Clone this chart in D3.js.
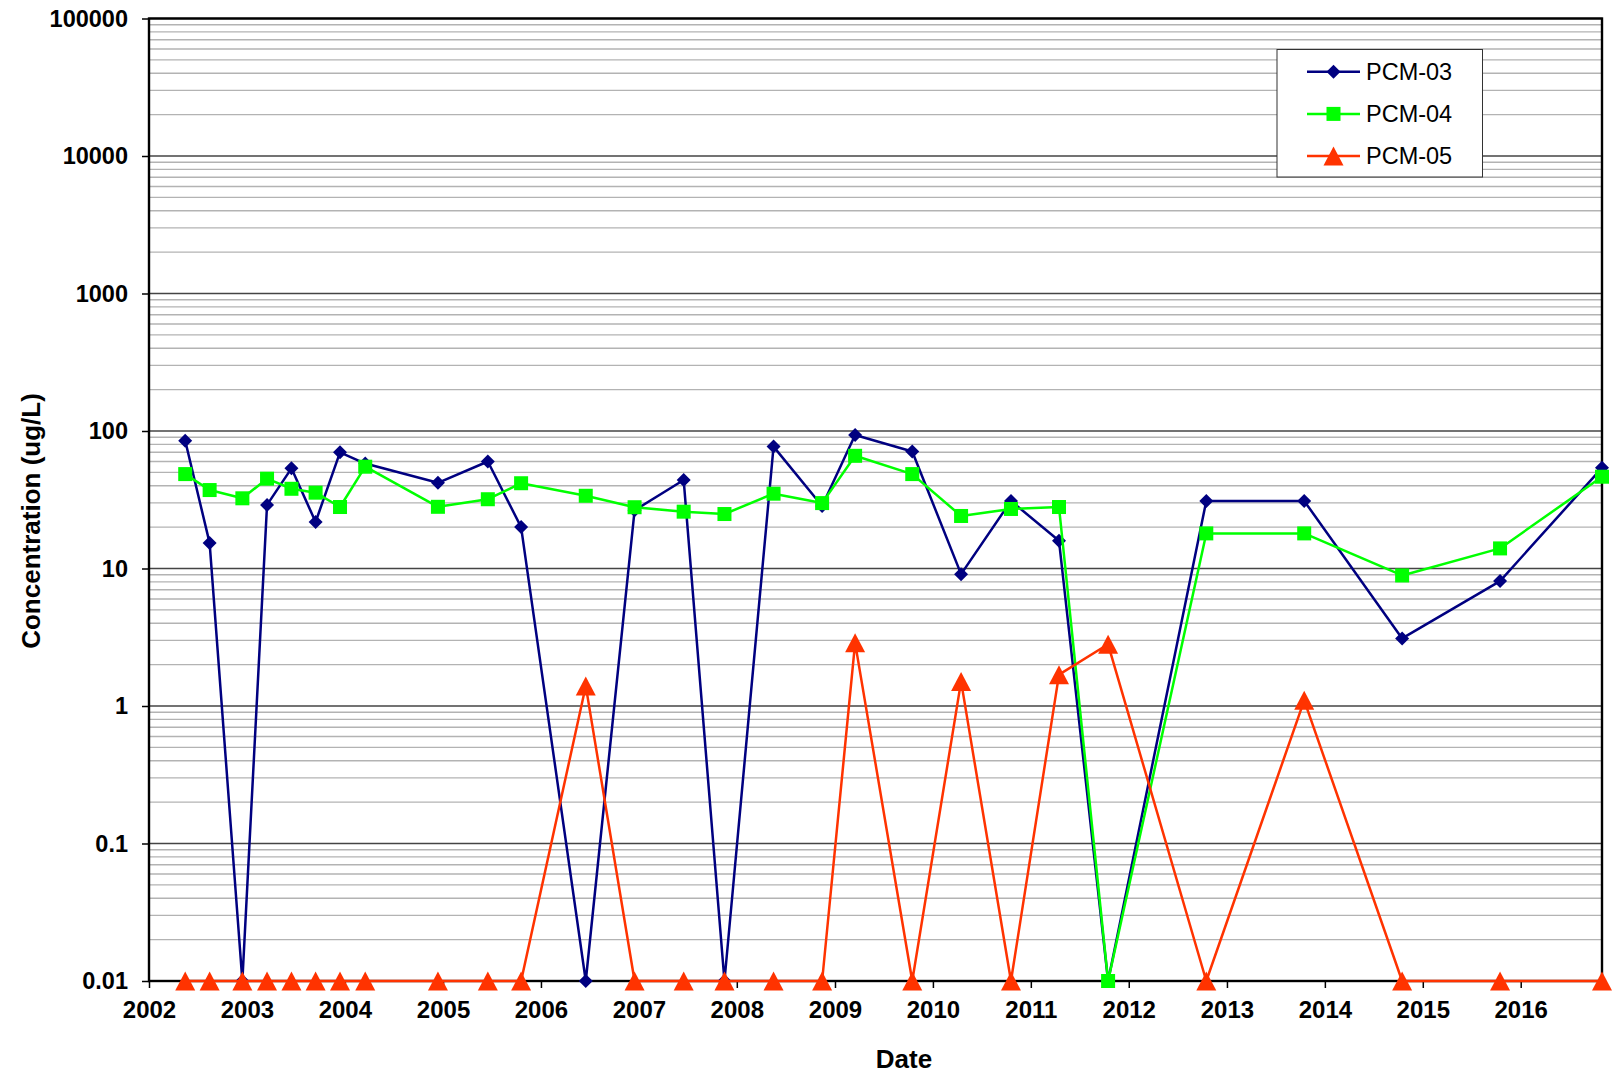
<!doctype html>
<html>
<head>
<meta charset="utf-8">
<script src="https://d3js.org/d3.v7.min.js"></script>
<style>
  body { margin: 0; background: #fff; }
  text { font-family: "Liberation Sans", Arial, sans-serif; }
</style>
</head>
<body>
<script>
// sample dates and concentrations (ug/L); non-detects plotted at 0.01
var dates = ["2002-05-16","2002-08-15","2002-12-15","2003-03-17","2003-06-16","2003-09-14","2003-12-14",
  "2004-03-17","2004-12-13","2005-06-17","2005-10-19","2006-06-17","2006-12-16","2007-06-17",
  "2007-11-16","2008-05-17","2008-11-14","2009-03-17","2009-10-16","2010-04-16","2010-10-19",
  "2011-04-16","2011-10-16","2012-10-16","2013-10-16","2014-10-16","2015-10-16","2016-10-30"];
var pcm03 = [85, 15.3, 0.01, 29, 53.5, 21.8, 70, 58, 42, 60, 20, 0.01, 26.5, 44,
  0.01, 77, 28.5, 93.5, 71, 9.1, 31, 15.9, 0.01, 31, 31, 3.1, 8.1, 54];
var pcm04 = [48.6, 37.2, 32.4, 45, 38, 35.6, 28, 55, 28.1, 31.9, 41.7, 33.8, 27.9, 25.9,
  24.9, 35, 29.9, 66, 48.6, 24.1, 27.1, 28, 0.01, 18, 18, 8.9, 14, 46.5];
var pcm05 = [0.01, 0.01, 0.01, 0.01, 0.01, 0.01, 0.01, 0.01, 0.01, 0.01, 0.01, 1.4, 0.01, 0.01,
  0.01, 0.01, 0.01, 2.88, 0.01, 1.51, 0.01, 1.69, 2.81, 0.01, 1.1, 0.01, 0.01, 0.01];
var seriesNames = ["PCM-03", "PCM-04", "PCM-05"];
var yTicks = [0.01, 0.1, 1, 10, 100, 1000, 10000, 100000];
var xTickYears = d3.range(2002, 2017);

var W = 1612, H = 1073;
var plotL = 149, plotR = 1602, plotT = 18.5, plotB = 981;

var parse = d3.timeParse("%Y-%m-%d");
var dd = dates.map(parse);

var svg = d3.select("body").append("svg").attr("width", W).attr("height", H);

var x = d3.scaleTime()
  .domain([new Date(2002, 0, 1), dd[dd.length - 1]])
  .range([plotL, plotR]);
var y = d3.scaleLog()
  .domain([0.01, 100000])
  .range([plotB, plotT]);

//---minor gridlines
var minor = [];
yTicks.slice(0, -1).forEach(function(t){
  for (var k = 2; k <= 9; k++) minor.push(t * k);
});
svg.append("g").selectAll("line").data(minor).enter().append("line")
  .attr("x1", plotL).attr("x2", plotR)
  .attr("y1", function(d){ return y(d); }).attr("y2", function(d){ return y(d); })
  .attr("stroke", "#b3b3b3").attr("stroke-width", 1.4);

//---major gridlines
svg.append("g").selectAll("line").data(yTicks).enter().append("line")
  .attr("x1", plotL).attr("x2", plotR)
  .attr("y1", function(d){ return y(d); }).attr("y2", function(d){ return y(d); })
  .attr("stroke", "#444").attr("stroke-width", 1.4);

//---axes
var yAxis = d3.axisLeft(y).tickValues(yTicks).tickSize(7).tickPadding(14)
  .tickFormat(function(d){ return String(d); });
var gy = svg.append("g").attr("transform", "translate(" + plotL + ",0)").call(yAxis);
gy.select(".domain").remove();
gy.selectAll("text").attr("font-size", "23.5px").attr("font-weight", "bold")
  .attr("fill", "#000").attr("font-family", "Liberation Sans, Arial, sans-serif");
gy.selectAll("line").attr("stroke", "#000").attr("stroke-width", 1.5);

var xAxis = d3.axisBottom(x).tickValues(xTickYears.map(function(yr){ return new Date(yr, 0, 1); }))
  .tickSize(7).tickPadding(13).tickFormat(d3.timeFormat("%Y"));
var gx = svg.append("g").attr("transform", "translate(0," + plotB + ")").call(xAxis);
gx.select(".domain").remove();
gx.selectAll("text").attr("font-size", "24px").attr("font-weight", "bold")
  .attr("fill", "#000").attr("font-family", "Liberation Sans, Arial, sans-serif");
gx.selectAll("line").attr("stroke", "#000").attr("stroke-width", 1.5);

//---plot frame
svg.append("rect")
  .attr("x", plotL).attr("y", plotT).attr("width", plotR - plotL).attr("height", plotB - plotT)
  .attr("fill", "none").attr("stroke", "#000").attr("stroke-width", 2.4);

//---axis titles
svg.append("text")
  .attr("x", 904).attr("y", 1068)
  .attr("text-anchor", "middle").attr("font-size", "26px").attr("font-weight", "bold")
  .text("Date");
svg.append("text")
  .attr("transform", "translate(40,521) rotate(-90)")
  .attr("text-anchor", "middle").attr("font-size", "26px").attr("font-weight", "bold")
  .text("Concentration (ug/L)");

//---series
var colors = ["#000080", "#00ff00", "#ff3300"];
var allSeries = [pcm03, pcm04, pcm05];

function marker(g, i){
  if (i == 0) {
    g.append("path").attr("d", "M0,-7L7,0L0,7L-7,0Z");
  } else if (i == 1) {
    g.append("rect").attr("x", -7).attr("y", -7).attr("width", 14).attr("height", 14);
  } else {
    g.append("path").attr("d", "M0,-9.5L10,9.5L-10,9.5Z");
  }
}

var line = d3.line()
  .x(function(d){ return x(d.date); })
  .y(function(d){ return y(d.value); });

allSeries.forEach(function(vals, i){
  var pts = vals.map(function(v, j){ return {date: dd[j], value: v}; });
  var g = svg.append("g");
  g.append("path")
    .attr("d", line(pts))
    .attr("fill", "none")
    .attr("stroke", colors[i])
    .attr("stroke-width", 2.5)
    .attr("stroke-linejoin", "round");
  g.selectAll(".m").data(pts).enter().append("g")
    .attr("transform", function(d){ return "translate(" + x(d.date) + "," + y(d.value) + ")"; })
    .attr("fill", colors[i])
    .each(function(){ marker(d3.select(this), i); });
});

//---legend
var lg = svg.append("g");
lg.append("rect")
  .attr("x", 1277).attr("y", 49.5).attr("width", 205.5).attr("height", 127.5)
  .attr("fill", "#fff").attr("stroke", "#333").attr("stroke-width", 1);
seriesNames.forEach(function(name, i){
  var ly = 71.7 + i * 42.2;
  lg.append("line")
    .attr("x1", 1307).attr("x2", 1360).attr("y1", ly).attr("y2", ly)
    .attr("stroke", colors[i]).attr("stroke-width", 2.5);
  var mg = lg.append("g").attr("transform", "translate(1333.5," + ly + ")").attr("fill", colors[i]);
  marker(mg, i);
  lg.append("text")
    .attr("x", 1366).attr("y", ly).attr("dy", "0.35em")
    .attr("font-size", "23.5px")
    .text(name);
});
</script>
</body>
</html>
